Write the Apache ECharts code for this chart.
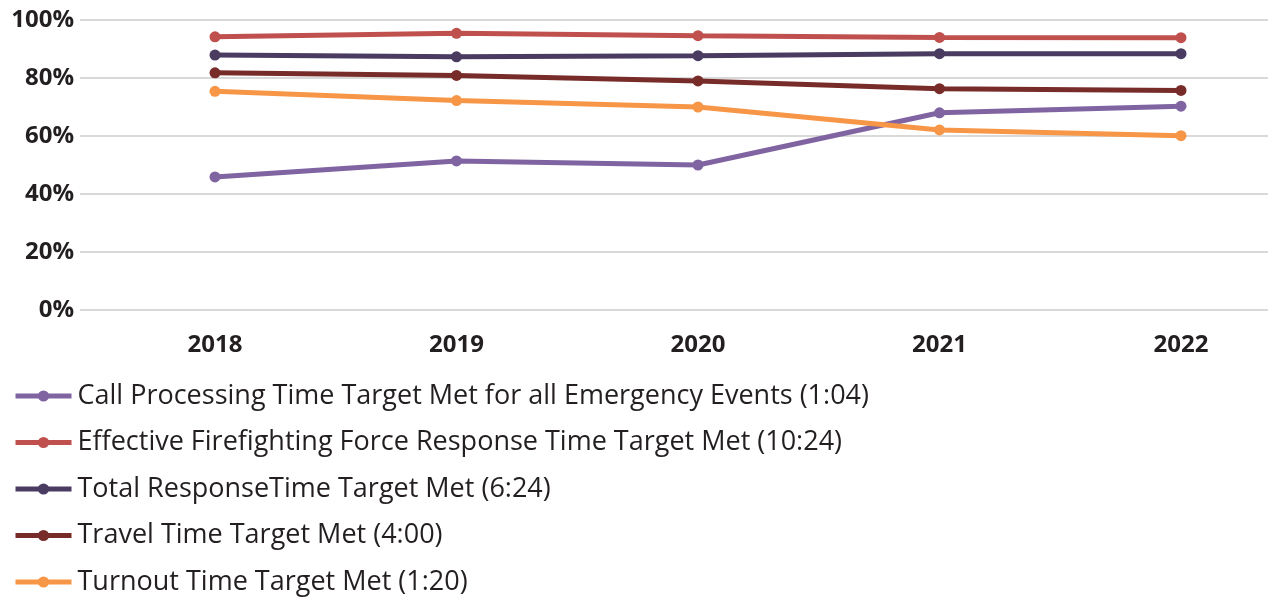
<!DOCTYPE html>
<html>
<head>
<meta charset="utf-8">
<script src="https://cdn.jsdelivr.net/npm/echarts@6/dist/echarts.min.js"></script>
<style>
  html, body { margin: 0; padding: 0; background: #fff; }
  #chartArea { width: 1268px; height: 597px; }
</style>
</head>
<body>
<div id="chartArea"></div>
<script>
var years = ['2018', '2019', '2020', '2021', '2022'];
var callProcessing = [0.459, 0.514, 0.500, 0.680, 0.703];
var effectiveForce = [0.942, 0.954, 0.946, 0.940, 0.939];
var totalResponse = [0.879, 0.873, 0.877, 0.884, 0.884];
var travelTime = [0.818, 0.809, 0.790, 0.763, 0.757];
var turnoutTime = [0.754, 0.722, 0.700, 0.621, 0.601];
var yTicks = [0, 0.2, 0.4, 0.6, 0.8, 1.0];

var seriesNames = [
    'Call Processing Time Target Met for all Emergency Events (1:04)',
    'Effective Firefighting Force Response Time Target Met (10:24)',
    'Total ResponseTime Target Met (6:24)',
    'Travel Time Target Met (4:00)',
    'Turnout Time Target Met (1:20)'
];
var seriesData = [callProcessing, effectiveForce, totalResponse, travelTime, turnoutTime];
var seriesColors = ['#8064a2', '#c0504d', '#4a3b61', '#772c2a', '#f79646'];

var myChart = echarts.init(document.getElementById('chartArea'));

function lineSeries(i) {
    return {
        name: seriesNames[i],
        type: 'line',
        xAxisIndex: 1,
        yAxisIndex: 1,
        data: seriesData[i],
        symbol: 'circle',
        symbolSize: 11,
        showSymbol: true,
        color: seriesColors[i],
        lineStyle: { width: 5, color: seriesColors[i] },
        itemStyle: { color: seriesColors[i] },
        emphasis: { disabled: true }
    };
}

var option = {
    backgroundColor: '#ffffff',
    animation: false,
    grid: [
        // gridlines + y labels
        { left: 80, width: 1188, top: 20, height: 290 },
        // lines, first/last year on the grid edges
        { left: 215, width: 966, top: 20, height: 290 }
    ],
    xAxis: [
        {
            type: 'category', gridIndex: 0, data: years, show: false
        },
        {
            type: 'category', gridIndex: 1, data: years,
            boundaryGap: false,
            axisLine: { show: false },
            axisTick: { show: false },
            axisLabel: {
                color: '#231f20', fontFamily: 'Open Sans', fontWeight: 'bold',
                fontSize: 24, margin: 23
            },
            splitLine: { show: false }
        }
    ],
    yAxis: [
        {
            type: 'value', gridIndex: 0, min: 0, max: 1, interval: 0.2,
            axisLine: { show: false },
            axisTick: { show: false },
            axisLabel: {
                color: '#231f20', fontFamily: 'Open Sans', fontWeight: 'bold',
                fontSize: 24, margin: 6,
                formatter: function(v) {
                    var hit = yTicks.filter(function(t) { return Math.abs(t - v) < 1e-6; });
                    return hit.length ? Math.round(v * 100) + '%' : '';
                }
            },
            splitLine: { show: true, lineStyle: { color: '#d9d9d9', width: 2 } }
        },
        {
            type: 'value', gridIndex: 1, min: 0, max: 1, interval: 0.2, show: false
        }
    ],
    legend: {
        orient: 'vertical',
        left: 13,
        top: 382,
        height: 230,
        padding: 0,
        itemWidth: 56,
        itemHeight: 14,
        itemGap: 18.5,
        lineStyle: { width: 5 },
        textStyle: {
            color: '#231f20', fontFamily: 'Open Sans', fontSize: 27, lineHeight: 28,
            padding: [0, 0, 0, 1]
        },
        data: seriesNames
    },
    series: [lineSeries(0), lineSeries(1), lineSeries(2), lineSeries(3), lineSeries(4)]
};

myChart.setOption(option);
</script>
</body>
</html>
